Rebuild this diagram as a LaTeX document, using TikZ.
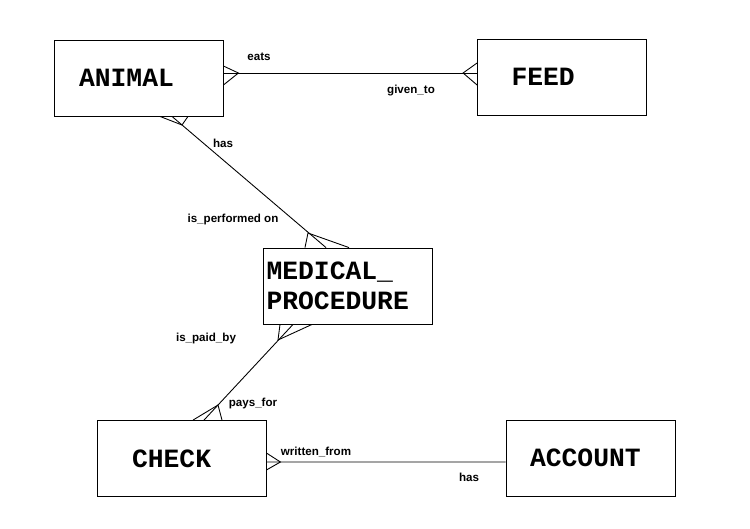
\documentclass[tikz,border=0pt]{standalone}
\usepackage{fontspec}
\newfontfamily\entfont{Liberation Mono}
\newfontfamily\lblfont{Liberation Sans}
\usetikzlibrary{calc}

\begin{document}
\begin{tikzpicture}[x=0.02cm, y=-0.02cm,
    ent/.style={draw=black, line width=0.5pt, minimum width=3.38cm, minimum height=1.52cm,
                align=left, inner ysep=0pt, font=\entfont\bfseries\fontsize{15}{17}\selectfont},
    lbl/.style={font=\lblfont\bfseries\fontsize{6.6}{8}\selectfont, inner sep=0pt},
    rel/.style={line width=0.5pt, color=black},
  ]
  \useasboundingbox (0,0) rectangle (750,528);

  % Entidades
  \node[ent, inner xsep=0.5cm,  text width=2.38cm] (animal)  at (138.5,78)  {ANIMAL};
  \node[ent, inner xsep=0.68cm, text width=2.02cm] (feed)    at (562,77)    {FEED};
  \node[ent, inner xsep=0.06cm, text width=3.26cm] (medproc) at (348,286)   {MEDICAL\_\\PROCEDURE};
  \node[ent, inner xsep=0.7cm,  text width=1.98cm] (check)   at (181.5,458.5) {CHECK};
  \node[ent, inner xsep=0.48cm, text width=2.42cm] (account) at (590.5,458) {ACCOUNT};

  % ANIMAL -- FEED
  \coordinate (af1) at ($(animal.east)+(15,-5)$);
  \coordinate (af2) at ($(feed.west)+(-14,-4)$);
  \draw[rel] ($(animal.east)+(0,-5)$) -- ($(feed.west)+(0,-4)$);
  \draw[rel] ($(animal.east)+(0,-12)$) -- (af1) -- ($(animal.east)+(0,7)$);
  \draw[rel] ($(feed.west)+(0,-14)$) -- (af2) -- ($(feed.west)+(0,8)$);

  % ANIMAL -- MEDICAL_PROCEDURE
  \coordinate (am1) at (182,125);
  \coordinate (am2) at (308,233);
  \draw[rel] ($(animal.south)+(33.5,0)$) -- ($(medproc.north)+(-22,0)$);
  \draw[rel] ($(animal.south)+(21.5,0)$) -- (am1) -- ($(animal.south)+(49.5,0)$);
  \draw[rel] ($(medproc.north)+(-43,0)$) -- (am2) -- ($(medproc.north)+(1,0)$);

  % MEDICAL_PROCEDURE -- CHECK
  \coordinate (mc1) at (278,340);
  \coordinate (mc2) at (218,405);
  \draw[rel] ($(medproc.south)+(-55,0)$) -- ($(check.north)+(22.5,0)$);
  \draw[rel] ($(medproc.south)+(-68,0)$) -- (mc1) -- ($(medproc.south)+(-36,0)$);
  \draw[rel] ($(check.north)+(11.5,0)$) -- (mc2) -- ($(check.north)+(40.5,0)$);

  % CHECK -- ACCOUNT
  \coordinate (ca1) at ($(check.east)+(14,3.5)$);
  \draw[rel] ($(check.east)+(0,3.5)$) -- ($(account.west)+(0,4)$);
  \draw[rel] ($(check.east)+(0,-5.5)$) -- (ca1) -- ($(check.east)+(0,11.5)$);

  % Roles
  \node[lbl] (eats)    at (259,57)  {eats};
  \node[lbl] (givento) at (411,91)  {given\_to};
  \node[lbl] (has1)    at (223,143) {has};
  \node[lbl] (isperf)  at (233,219) {is\_performed on};
  \node[lbl] (ispaid)  at (206,338) {is\_paid\_by};
  \node[lbl] (paysfor) at (253,403) {pays\_for};
  \node[lbl] (written) at (316,452) {written\_from};
  \node[lbl] (has2)    at (469,477) {has};
\end{tikzpicture}
\end{document}
